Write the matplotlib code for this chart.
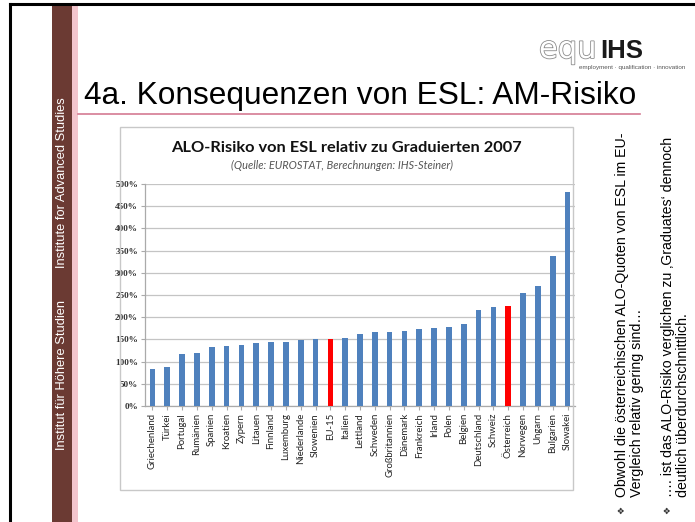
import matplotlib
matplotlib.use("Agg")
import matplotlib.pyplot as plt
import matplotlib.patheffects as pe
from matplotlib.patches import Rectangle
from matplotlib.lines import Line2D

# Daten: ALO-Risiko von ESL relativ zu Graduierten (in %)
laender = ['Griechenland', 'Türkei', 'Portugal', 'Rumänien', 'Spanien', 'Kroatien',
           'Zypern', 'Litauen', 'Finnland', 'Luxemburg', 'Niederlande', 'Slowenien',
           'EU-15', 'Italien', 'Lettland', 'Schweden', 'Großbritannien', 'Dänemark',
           'Frankreich', 'Irland', 'Polen', 'Belgien', 'Deutschland', 'Schweiz',
           'Österreich', 'Norwegen', 'Ungarn', 'Bulgarien', 'Slowakei']
risiko = [84, 87, 117, 120, 132, 135, 138, 143, 145, 145, 149, 151,
          152, 154, 162, 166, 166, 168, 173, 175, 179, 184, 217, 222,
          226, 255, 271, 337, 483]
hervorgehoben = ['EU-15', 'Österreich']
y_ticks = [0, 50, 100, 150, 200, 250, 300, 350, 400, 450, 500]

blau = '#4f81bd'
rot = '#ff0000'

W, H = 695, 522
fig = plt.figure(figsize=(W / 100, H / 100), dpi=100)
fig.patch.set_facecolor('white')


def fx(px):
    return px / W


def fy(py):
    return 1 - py / H


# ---------- Folienrahmen ----------
fig.add_artist(Line2D([fx(10), fx(10)], [fy(4), 0], color='black', lw=2.2))
fig.add_artist(Line2D([fx(10), 1], [fy(4), fy(4)], color='black', lw=2.2))
fig.add_artist(Rectangle((fx(52), 0), fx(72) - fx(52), fy(5), color='#6b3a33', lw=0))
fig.add_artist(Rectangle((fx(72), 0), fx(78) - fx(72), fy(5), color='#f3c5cd', lw=0))
fig.text(fx(62), fy(183), 'Institute for Advanced Studies', rotation=90, color='white',
         fontsize=9.3, family='Liberation Sans', ha='center', va='center')
fig.text(fx(62), fy(375), 'Institut für Höhere Studien', rotation=90, color='white',
         fontsize=9.3, family='Liberation Sans', ha='center', va='center')

# ---------- Logo ----------
fig.text(fx(539), fy(58), 'equ', fontsize=22, family='DejaVu Sans', color='white',
         ha='left', va='baseline',
         path_effects=[pe.withStroke(linewidth=1.2, foreground='#8c8c8c')])
fig.text(fx(600), fy(58), 'IHS', fontsize=18.5, family='Liberation Sans', weight='bold',
         color='#1a1a1a', ha='left', va='baseline')
fig.text(fx(685), fy(69), 'employment · qualification · innovation', fontsize=4.5,
         family='Liberation Sans', color='#555555', ha='right', va='baseline')

# ---------- Folientitel ----------
fig.text(fx(84), fy(104), '4a. Konsequenzen von ESL: AM-Risiko', fontsize=22.8,
         family='Liberation Sans', color='black', ha='left', va='baseline')
fig.add_artist(Line2D([fx(78), fx(640)], [fy(114), fy(114)], color='#d47a92', lw=1.2))

# ---------- Diagrammrahmen ----------
fig.add_artist(Rectangle((fx(120), fy(490)), fx(573) - fx(120), fy(127) - fy(490),
                         fill=False, edgecolor='#c8c8c8', lw=1.0))
fig.text(fx(346), fy(148), 'ALO-Risiko von ESL relativ zu Graduierten 2007', fontsize=11.8,
         family='Lato', weight='bold', color='#111111', ha='center', va='center')
fig.text(fx(342), fy(165), '(Quelle: EUROSTAT, Berechnungen: IHS-Steiner)', fontsize=7.9,
         family='Lato', style='italic', color='#555555', ha='center', va='center')

# ---------- Balkendiagramm ----------
ax = fig.add_axes([fx(145), fy(406), fx(575) - fx(145), fy(184) - fy(406)])
farben = [rot if l in hervorgehoben else blau for l in laender]
x = list(range(len(laender)))
ax.bar(x, risiko, width=0.38, color=farben, zorder=3)
ax.set_xlim(-0.5, len(laender) - 0.5)
ax.set_ylim(0, 500)
ax.set_yticks(y_ticks)
ax.set_yticklabels(['%d%%' % v for v in y_ticks], fontsize=6.6, family='Liberation Serif',
                   weight='bold', color='#333333')
ax.set_xticks(x)
ax.set_xticklabels(laender, rotation=90, fontsize=6.9, family='Lato', color='#222222')
ax.grid(axis='y', color='#c4c4c4', lw=0.9, zorder=0)
for s in ['top', 'right']:
    ax.spines[s].set_visible(False)
for s in ['left', 'bottom']:
    ax.spines[s].set_color('#aaaaaa')
    ax.spines[s].set_linewidth(0.9)
ax.tick_params(axis='y', length=3, color='#aaaaaa', pad=2)
ax.tick_params(axis='x', length=3, color='#aaaaaa', pad=2)

# ---------- Textspalte rechts ----------
tkw = dict(rotation=90, fontsize=10.2, family='Liberation Sans', color='black',
           ha='left', va='center', rotation_mode='anchor')
bkw = dict(rotation=90, fontsize=6.5, family='DejaVu Sans', color='#333333',
           ha='center', va='center')
fig.text(fx(622), fy(510), '❖', **bkw)
fig.text(fx(622), fy(497), 'Obwohl die österreichischen ALO-Quoten von ESL im EU-', **tkw)
fig.text(fx(637), fy(497), 'Vergleich relativ gering sind…', **tkw)
fig.text(fx(668), fy(510), '❖', **bkw)
fig.text(fx(668), fy(497), '…. ist das ALO-Risiko verglichen zu ‚Graduates‘ dennoch', **tkw)
fig.text(fx(683), fy(497), 'deutlich überdurchschnittlich.', **tkw)

fig.savefig('out.png', dpi=100)
